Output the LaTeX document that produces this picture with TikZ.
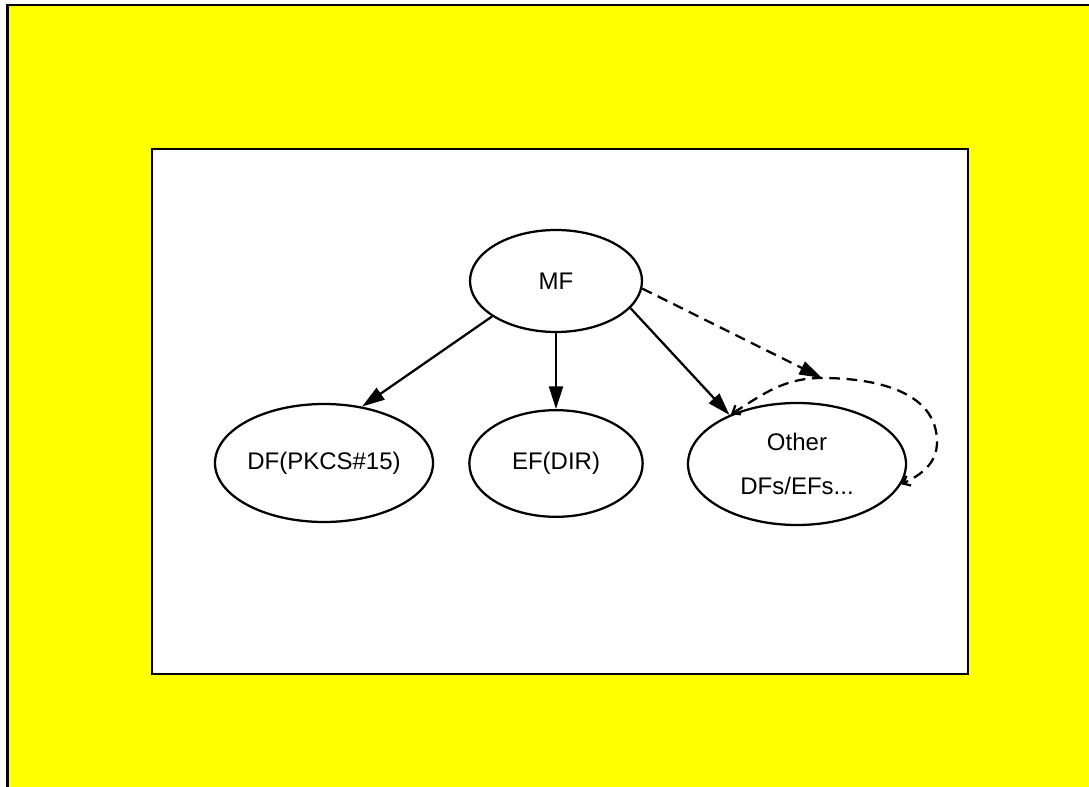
\documentclass[tikz,border=0pt]{standalone}
\usepackage{fontspec}
\setmainfont{Liberation Sans}
\usetikzlibrary{shapes.geometric,arrows.meta}
\definecolor{panelyellow}{RGB}{255,255,0}
\begin{document}
\begin{tikzpicture}[x=0.75pt,y=-0.75pt,
  frame/.style={draw=black,line width=1.6pt},
  oval/.style={ellipse,draw=black,line width=1.7pt,fill=white,inner sep=0pt,align=center,
    font=\fontsize{18}{33}\selectfont},
  link/.style={line width=1.7pt,-{Triangle[length=17pt,width=10.5pt]}},
  dlink/.style={link,dash pattern=on 8pt off 5pt},
  loopline/.style={line width=1.7pt,dash pattern=on 8pt off 5pt,
    {Straight Barb[length=5pt,width=8pt]}-{Straight Barb[length=5pt,width=8pt]}}]
\useasboundingbox (0,0) rectangle (1089,787);
\fill[white] (0,0) rectangle (1089,787);
% outer yellow panel, open to the right and bottom
\begin{scope}
  \clip (0,0) rectangle (1089,787);
  \draw[fill=panelyellow,line width=2pt] (7.5,5) rectangle (1100,800);
\end{scope}
% inner white canvas
\draw[frame,fill=white] (152,149) rectangle (968,674);

% file-system nodes
\node[oval,minimum width=129pt,minimum height=76.5pt] (MF) at (556,281) {MF};
\node[oval,minimum width=163.5pt,minimum height=88.5pt] (DF) at (324,463) {DF(PKCS\#15)};
\node[oval,minimum width=130pt,minimum height=80pt] (EF) at (556,463.5) {EF(DIR)};
\node[oval,minimum width=163.5pt,minimum height=91.5pt] (OT) at (797,464) {Other\\DFs/EFs...};

% children of MF
\draw[link] (MF.209) -- (DF.56);
\draw[link] (MF.south) -- (EF.north);
\draw[link] (MF.-20) -- (OT.144);

% dashed loop around the other files
\coordinate (LT) at (822,378);
\coordinate (LR) at (937,442);
\draw[dlink] (MF.-5) -- (LT);
\draw[loopline] (OT.143) to[out=32,in=180] (LT) to[out=0,in=90] (LR) to[out=-90,in=25] (OT.-11);
\end{tikzpicture}
\end{document}
